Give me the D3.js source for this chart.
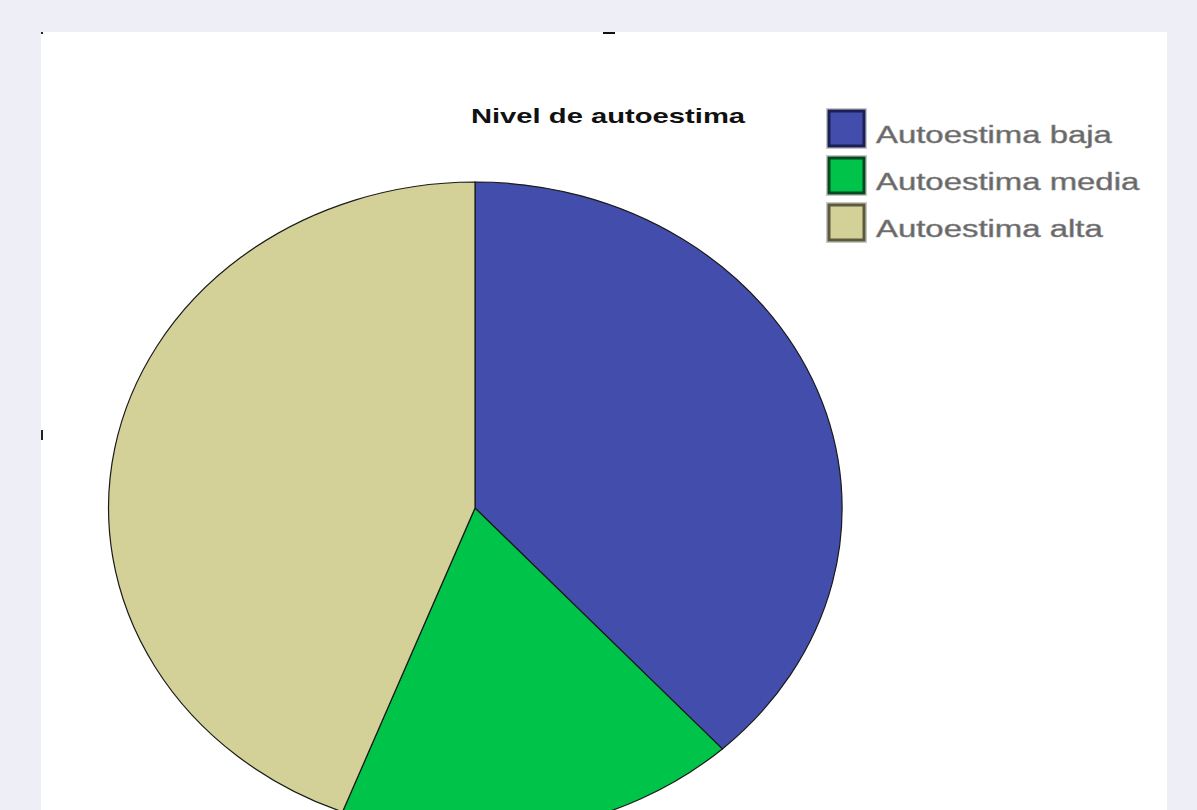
<!DOCTYPE html>
<html>
<head>
<meta charset="utf-8">
<script src="https://cdn.jsdelivr.net/npm/d3@7"></script>
<style>
  html, body { margin: 0; padding: 0; background: #eeeef7; overflow: hidden; }
  svg { display: block; }
</style>
</head>
<body>
<div id="chart"></div>
<script>
// Nivel de autoestima — frecuencias (lectura aproximada de los ángulos)
const categories = ['Autoestima baja', 'Autoestima media', 'Autoestima alta'];
const counts = [26, 12, 30];
const colors = ['#434eac', '#00c34a', '#d3d197'];
const borderColors = ['#1a1f55', '#05491e', '#5c5a3c'];

const width = 1197, height = 810;

const svg = d3.select('#chart').append('svg')
  .attr('width', width)
  .attr('height', height);

// panneau blanc
svg.append('rect')
  .attr('x', 41).attr('y', 32)
  .attr('width', 1126).attr('height', height - 32)
  .attr('fill', '#ffffff');

// petites marques résiduelles
svg.append('rect').attr('x', 41).attr('y', 32).attr('width', 2).attr('height', 2).attr('fill', '#222');
svg.append('rect').attr('x', 603).attr('y', 32).attr('width', 12).attr('height', 2).attr('fill', '#111');
svg.append('rect').attr('x', 41).attr('y', 430).attr('width', 2).attr('height', 10).attr('fill', '#222');

// texte étiré horizontalement (police d'origine plus large)
function stretch(sel, factor) {
  sel.each(function () {
    const w = this.getComputedTextLength();
    d3.select(this).attr('textLength', w * factor).attr('lengthAdjust', 'spacingAndGlyphs');
  });
}

svg.append('text')
  .attr('x', 608).attr('y', 123)
  .attr('text-anchor', 'middle')
  .attr('font-family', 'Liberation Sans, Arial, sans-serif')
  .attr('font-weight', 'bold')
  .attr('font-size', 21)
  .attr('fill', '#111')
  .text('Nivel de autoestima')
  .call(stretch, 1.39);

// camembert elliptique : rayon 1 puis mise à l'échelle
const cx = 475, cy = 508, rx = 367, ry = 326;
const pie = d3.pie().sort(null).value(d => d)(counts);
const arc = d3.arc().innerRadius(0).outerRadius(1);

const pieG = svg.append('g')
  .attr('transform', `translate(${cx},${cy}) scale(${rx},${ry})`);

pieG.selectAll('path')
  .data(pie)
  .join('path')
  .attr('d', arc)
  .attr('fill', (d, i) => colors[i])
  .attr('stroke', '#1a1a1a')
  .attr('stroke-width', 1.2)
  .attr('vector-effect', 'non-scaling-stroke');

// légende
const legend = svg.append('g').attr('transform', 'translate(826,108)');
const rows = legend.selectAll('g')
  .data(categories)
  .join('g')
  .attr('transform', (d, i) => `translate(0,${i * 47})`);

rows.append('rect')
  .attr('x', 0).attr('y', 0)
  .attr('width', 41).attr('height', 41)
  .attr('fill', '#c8c8c8');
rows.append('rect')
  .attr('x', 3).attr('y', 3)
  .attr('width', 35).attr('height', 35)
  .attr('fill', (d, i) => colors[i])
  .attr('stroke', (d, i) => borderColors[i])
  .attr('stroke-width', 3);

rows.append('text')
  .attr('x', 50).attr('y', 35)
  .attr('font-family', 'Liberation Sans, Arial, sans-serif')
  .attr('font-size', 23)
  .attr('fill', '#666')
  .attr('stroke', '#888')
  .attr('stroke-width', 0.5)
  .text(d => d)
  .call(stretch, 1.43);
</script>
</body>
</html>
